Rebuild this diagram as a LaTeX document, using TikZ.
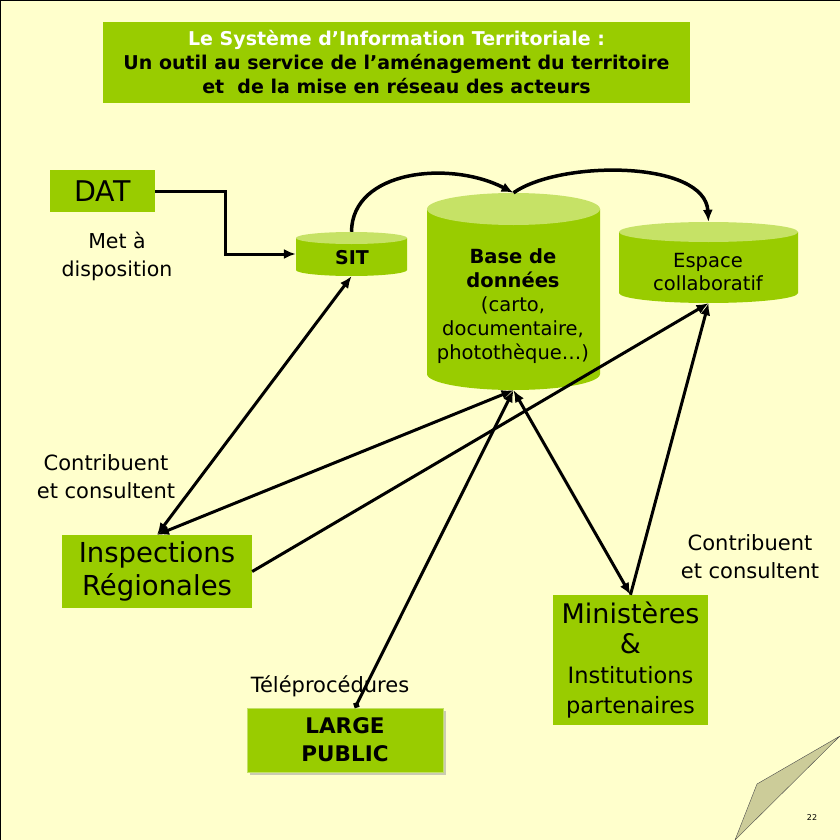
\documentclass[tikz,border=0pt]{standalone}
\usepackage{fontspec}
\setmainfont{DejaVu Sans}
\usetikzlibrary{arrows.meta,shadows}
\definecolor{vert}{HTML}{99CC00}
\definecolor{vertclair}{HTML}{C6E266}
\definecolor{fondjaune}{HTML}{FFFFCC}
\definecolor{pli}{HTML}{CCCC99}
\tikzstyle{boite} = [fill=vert, inner sep=0pt, align=center]
\tikzset{fleche/.style={line width=3pt, -{Latex[length=12pt,width=10pt]}},
    double fleche/.style={line width=3pt, {Latex[length=12pt,width=10pt]}-{Latex[length=12pt,width=10pt]}},
    texte/.style={align=center, font=\fontsize{21}{28}\selectfont}}
% cylindre : nom, x, y (centre), demi-largeur, demi-hauteur, rayon de l'ellipse
\newcommand{\cylindre}[6]{%
  \fill[vert] (#2-#4,#3-#5+#6) -- (#2-#4,#3+#5-#6)
    arc[start angle=180, end angle=0, x radius=#4, y radius=#6] -- (#2+#4,#3-#5+#6) -- cycle;
  \fill[vertclair] (#2,#3-#5+#6) ellipse[x radius=#4, y radius=#6];
  \node[inner sep=0pt, minimum width={2*#4pt}, minimum height={2*#5pt}] (#1) at (#2,#3) {};
}

\begin{document}
\begin{tikzpicture}[x=1pt,y=-1pt]
    % Fond de la diapositive
    \useasboundingbox (0,0) rectangle (840,840);
    \shade[top color=fondjaune, middle color=white!70!fondjaune, bottom color=fondjaune] (0,0) rectangle (840,840);
    \draw[line width=2pt] (0,840) -- (0,0) -- (840,0);
    \filldraw[fill=pli, draw=black!70, thin] (757,784) -- (840,736) -- (735,840) -- cycle;
    \node[font=\fontsize{8}{9}\selectfont] (page) at (812,818) {22};
    %
    \node[boite, minimum width=587pt, minimum height=81pt, font=\bfseries\fontsize{19}{24}\selectfont] (titre) at (396.5,62.5)
      {\textcolor{white}{Le Système d’Information Territoriale :}\\
       Un outil au service de l’aménagement du territoire\\
       et~ de la mise en réseau des acteurs};
    %
    \node[boite, minimum width=105pt, minimum height=42pt, font=\fontsize{28.5}{30}\selectfont] (dat) at (102.5,191) {DAT};
    \node[texte, font=\fontsize{20.5}{28}\selectfont] (met) at (117,256) {Met à\\disposition};
    % Definition des cylindres
    \cylindre{sit}{351.5}{254}{55.5}{22}{6}
    \cylindre{bdd}{513.5}{291.5}{86.5}{98.5}{16}
    \cylindre{espace}{708.5}{262.5}{89.5}{40.5}{10}
    \node[font=\bfseries\fontsize{19}{24}\selectfont] (sittexte) at (352,258) {SIT};
    \node[align=center, font=\fontsize{19.5}{24}\selectfont] (bddtexte) at (513,306)
      {\textbf{Base de}\\\textbf{données}\\(carto,\\documentaire,\\photothèque…)};
    \node[align=center, font=\fontsize{19.5}{23}\selectfont] (espacetexte) at (708,272) {Espace\\collaboratif};
    %
    \node[texte] (contrib) at (106,477) {Contribuent\\et consultent};
    \node[texte] (contribmin) at (750,557) {Contribuent\\et consultent};
    \node[boite, minimum width=190pt, minimum height=73pt, font=\fontsize{27.5}{33}\selectfont] (insp) at (157,571.5) {Inspections\\Régionales};
    \node[boite, minimum width=155pt, minimum height=130pt, font=\fontsize{22.5}{30}\selectfont] (min) at (630.5,660)
      {{\fontsize{27}{31}\selectfont Ministères}\\{\fontsize{27}{31}\selectfont \&}\\Institutions\\partenaires};
    \node[texte] (telep) at (330,686) {Téléprocédures};
    \node[boite, draw=vert!60!white, drop shadow={shadow xshift=3pt, shadow yshift=-3pt, fill=gray!80},
      minimum width=196pt, minimum height=64pt, font=\bfseries\fontsize{21.5}{28}\selectfont] (lp) at (345,740) {LARGE\\PUBLIC};
    % Liaisons
    \coordinate (coude) at (225,191);
    \draw[fleche] (dat.east) -- (coude) |- (sit.west);
    \draw[fleche, line width=3.5pt] (sit.north) .. controls (352,170) and (450,160) .. (bdd.north);
    \draw[fleche, line width=3.5pt] (bdd.north) .. controls (560,160) and (705,160) .. (espace.north);
    \draw[double fleche] (insp.north) -- (sit.south);
    \draw[double fleche] (insp.north) -- (bdd.south);
    \draw[fleche] (insp.east) -- (espace.south);
    \draw[fleche, {Circle[length=6pt]}-{Latex[length=12pt,width=10pt]}] ([xshift=10pt]lp.north) -- (bdd.south);
    \draw[double fleche] (min.north) -- (bdd.south);
    \draw[fleche] (min.north) -- (espace.south);
\end{tikzpicture}
\end{document}
